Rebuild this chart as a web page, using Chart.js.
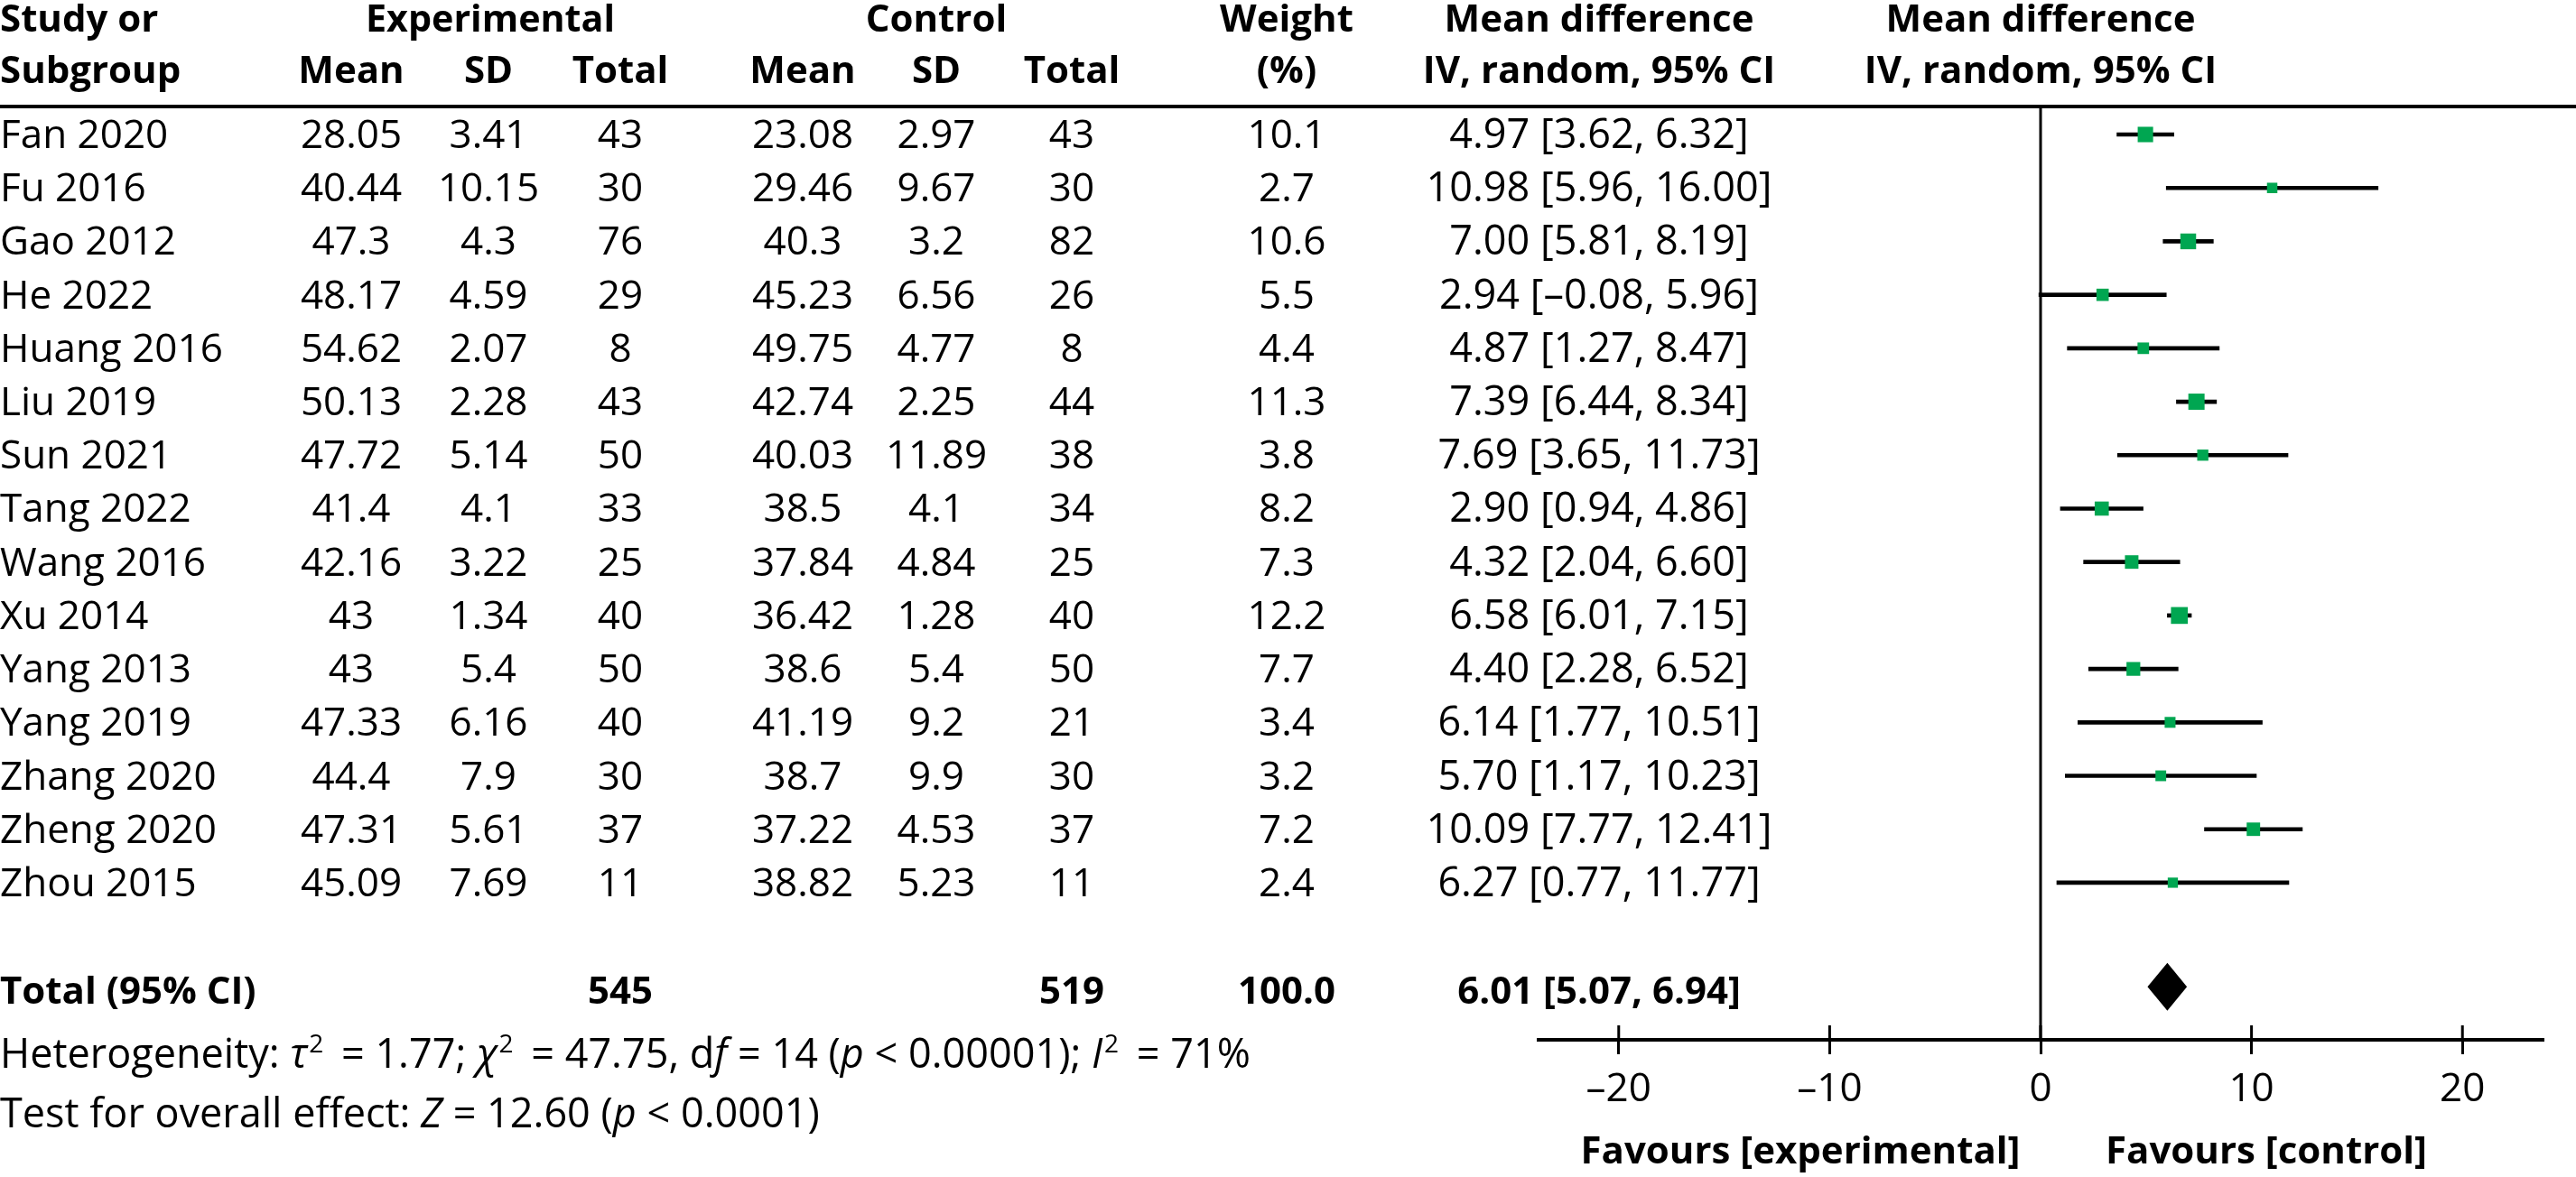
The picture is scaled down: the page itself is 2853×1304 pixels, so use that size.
<!DOCTYPE html>
<html>
<head>
<meta charset="utf-8">
<script src="https://cdn.jsdelivr.net/npm/chart.js@4"></script>
<style>
html,body{margin:0;padding:0;background:#fff;}
#wrap{width:2853px;height:1304px;position:relative;}
</style>
</head>
<body>
<div id="wrap"><canvas id="c"></canvas></div>
<script>
const studies = ["Fan 2020","Fu 2016","Gao 2012","He 2022","Huang 2016","Liu 2019","Sun 2021","Tang 2022","Wang 2016","Xu 2014","Yang 2013","Yang 2019","Zhang 2020","Zheng 2020","Zhou 2015"];
const expMean = ["28.05","40.44","47.3","48.17","54.62","50.13","47.72","41.4","42.16","43","43","47.33","44.4","47.31","45.09"];
const expSD = ["3.41","10.15","4.3","4.59","2.07","2.28","5.14","4.1","3.22","1.34","5.4","6.16","7.9","5.61","7.69"];
const expTotal = [43,30,76,29,8,43,50,33,25,40,50,40,30,37,11];
const ctlMean = ["23.08","29.46","40.3","45.23","49.75","42.74","40.03","38.5","37.84","36.42","38.6","41.19","38.7","37.22","38.82"];
const ctlSD = ["2.97","9.67","3.2","6.56","4.77","2.25","11.89","4.1","4.84","1.28","5.4","9.2","9.9","4.53","5.23"];
const ctlTotal = [43,30,82,26,8,44,38,34,25,40,50,21,30,37,11];
const weight = [10.1,2.7,10.6,5.5,4.4,11.3,3.8,8.2,7.3,12.2,7.7,3.4,3.2,7.2,2.4];
const md = [4.97,10.98,7.00,2.94,4.87,7.39,7.69,2.90,4.32,6.58,4.40,6.14,5.70,10.09,6.27];
const ciLo = [3.62,5.96,5.81,-0.08,1.27,6.44,3.65,0.94,2.04,6.01,2.28,1.77,1.17,7.77,0.77];
const ciHi = [6.32,16.00,8.19,5.96,8.47,8.34,11.73,4.86,6.60,7.15,6.52,10.51,10.23,12.41,11.77];
const totalExp = 545;
const totalCtl = 519;
const totalWeight = "100.0";
const totalMD = 6.01, totalLo = 5.07, totalHi = 6.94;
const tickVals = [-20,-10,0,10,20];
const heterogeneity = [["Heterogeneity: ","n"],["τ","i"],["2","s"],[" = 1.77; ","n"],["χ","i"],["2","s"],[" = 47.75, d","n"],["f","i"],[" = 14 (","n"],["p","i"],[" < 0.00001); ","n"],["I","i"],["2","s"],[" = 71%","n"]];
const overall = [["Test for overall effect: ","n"],["Z","i"],[" = 12.60 (","n"],["p","i"],[" < 0.0001)","n"]];

const FONT = '"Open Sans"';
const FS = 44, FB = 42, FF = 45;
const fmt = v => (v < 0 ? "–" + Math.abs(v).toFixed(2) : v.toFixed(2));
const mdText = (m,l,h) => fmt(m) + " [" + fmt(l) + ", " + fmt(h) + "]";

const COL = {study:0, eMean:389, eSD:541, eTot:687, exp:543, cMean:889, cSD:1037, cTot:1187, ctl:1037, w:1425, md:1771};

function txt(ctx, s, x, y, align, bold, size, maxW){
  ctx.font = (bold ? 'bold ' : '') + (size || FS) + 'px ' + FONT;
  ctx.textAlign = align;
  ctx.textBaseline = 'alphabetic';
  if (maxW) ctx.fillText(s, x, y, maxW); else ctx.fillText(s, x, y);
}
function rich(ctx, segs, x, y){
  ctx.textAlign = 'left';
  ctx.textBaseline = 'alphabetic';
  let cx = x;
  for (const [t,f] of segs){
    let yy = y, extra = 0;
    if (f === 'i') ctx.font = 'italic ' + FF + 'px ' + FONT;
    else if (f === 's'){ ctx.font = '28px ' + FONT; yy = y - 17; cx += 2; extra = 8; }
    else ctx.font = FF + 'px ' + FONT;
    ctx.fillText(t, cx, yy);
    cx += ctx.measureText(t).width + extra;
  }
}

const forestPlugin = {
  id: 'forest',
  beforeDatasetsDraw(chart){
    const ctx = chart.ctx, xs = chart.scales.x, ca = chart.chartArea;
    ctx.save();
    ctx.fillStyle = '#000';
    const x0 = xs.getPixelForValue(0);
    ctx.fillRect(x0 - 1.5, ca.top, 3, ca.bottom - ca.top);
    for (const v of tickVals){
      const px = xs.getPixelForValue(v);
      ctx.fillRect(px - 1.5, ca.bottom - 16, 3, 16);
    }
    ctx.restore();
  },
  afterDraw(chart){
    const ctx = chart.ctx, xs = chart.scales.x, ys = chart.scales.y, ca = chart.chartArea;
    const W = ctx.canvas.width;
    ctx.save();
    ctx.fillStyle = '#000';
    // header rule
    ctx.fillRect(0, ca.top - 2, W, 4);
    // headers
    const h1 = 35, h2 = 92;
    txt(ctx, "Study or", COL.study, h1, 'left', true, FB);
    txt(ctx, "Subgroup", COL.study, h2, 'left', true, FB);
    txt(ctx, "Experimental", COL.exp, h1, 'center', true, FB, 276);
    txt(ctx, "Control", COL.ctl, h1, 'center', true, FB);
    txt(ctx, "Weight", COL.w, h1, 'center', true, FB);
    txt(ctx, "(%)", COL.w, h2, 'center', true, FB);
    txt(ctx, "Mean difference", COL.md, h1, 'center', true, FB);
    txt(ctx, "IV, random, 95% CI", COL.md, h2, 'center', true, FB);
    const xc = (ca.left + ca.right) / 2;
    txt(ctx, "Mean difference", xc, h1, 'center', true, FB);
    txt(ctx, "IV, random, 95% CI", xc, h2, 'center', true, FB);
    [["Mean",COL.eMean],["SD",COL.eSD],["Total",COL.eTot],["Mean",COL.cMean],["SD",COL.cSD],["Total",COL.cTot]].forEach(([s,x]) => txt(ctx, s, x, h2, 'center', true, FB));
    // rows
    studies.forEach((s,i) => {
      const b = ys.getPixelForValue(i) + 15;
      txt(ctx, s, COL.study, b, 'left', false);
      txt(ctx, expMean[i], COL.eMean, b, 'center', false);
      txt(ctx, expSD[i], COL.eSD, b, 'center', false);
      txt(ctx, String(expTotal[i]), COL.eTot, b, 'center', false);
      txt(ctx, ctlMean[i], COL.cMean, b, 'center', false);
      txt(ctx, ctlSD[i], COL.cSD, b, 'center', false);
      txt(ctx, String(ctlTotal[i]), COL.cTot, b, 'center', false);
      txt(ctx, weight[i].toFixed(1), COL.w, b, 'center', false);
      txt(ctx, mdText(md[i], ciLo[i], ciHi[i]), COL.md, b, 'center', false, 45);
    });
    // total row
    const ty = ys.getPixelForValue(16);
    const tb = ty + 16;
    txt(ctx, "Total (95% CI)", COL.study, tb, 'left', true, FB);
    txt(ctx, String(totalExp), COL.eTot, tb, 'center', true, FB);
    txt(ctx, String(totalCtl), COL.cTot, tb, 'center', true, FB);
    txt(ctx, totalWeight, COL.w, tb, 'center', true, FB);
    txt(ctx, mdText(totalMD, totalLo, totalHi), COL.md, tb, 'center', true, FB);
    // diamond
    const dl = xs.getPixelForValue(totalLo), dm = xs.getPixelForValue(totalMD), dr = xs.getPixelForValue(totalHi);
    const dy = ty - 3;
    ctx.beginPath();
    ctx.moveTo(dl, dy); ctx.lineTo(dm, dy - 26.5); ctx.lineTo(dr, dy); ctx.lineTo(dm, dy + 26.5); ctx.closePath();
    ctx.fill();
    // footers
    rich(ctx, heterogeneity, 0, 1183);
    rich(ctx, overall, 0, 1249);
    // favours
    const x0 = xs.getPixelForValue(0);
    txt(ctx, "Favours [experimental]", x0 - 266, 1289, 'center', true, FB);
    txt(ctx, "Favours [control]", x0 + 250, 1289, 'center', true, FB);
    ctx.restore();
  }
};

Chart.defaults.font.family = FONT;
Chart.defaults.color = '#000';

new Chart(document.getElementById('c'), {
  type: 'scatter',
  data: {
    datasets: [
      {
        type: 'scatter',
        data: md.map((m,i) => ({x: m, y: i})),
        pointStyle: 'rect',
        pointRadius: weight.map(w => (9.5 + 0.75 * w) / Math.SQRT2),
        pointBackgroundColor: '#00a651',
        pointBorderWidth: 0,
        pointBorderColor: '#00a651',
        order: 0
      },
      {
        type: 'bar',
        indexAxis: 'y',
        data: studies.map((s,i) => ({x: [ciLo[i], ciHi[i]], y: i})),
        backgroundColor: '#000',
        borderWidth: 0,
        barThickness: 4,
        order: 1
      }
    ]
  },
  options: {
    responsive: true,
    maintainAspectRatio: false,
    devicePixelRatio: 1,
    animation: false,
    events: [],
    layout: {padding: {left: 1704, right: 37, top: 118, bottom: 0}},
    plugins: {legend: {display: false}, tooltip: {enabled: false}},
    scales: {
      x: {
        type: 'linear',
        min: -23.8, max: 23.8,
        offset: false,
        beginAtZero: false,
        position: 'bottom',
        afterBuildTicks: s => { s.ticks = tickVals.map(v => ({value: v})); },
        afterFit: s => { s.height = 152; },
        border: {display: true, color: '#000', width: 4},
        grid: {offset: false, drawOnChartArea: false, drawTicks: true, tickLength: 16, color: '#000', lineWidth: 3},
        ticks: {color: '#000', font: {size: 44, family: FONT}, padding: 13, maxRotation: 0, autoSkip: false,
                callback: v => (v < 0 ? "–" + Math.abs(v) : String(v))}
      },
      y: {
        type: 'linear',
        display: false,
        offset: false,
        beginAtZero: false,
        grid: {offset: false},
        reverse: true,
        min: -0.5236, max: 16.94
      }
    }
  },
  plugins: [forestPlugin]
});
</script>
</body>
</html>
